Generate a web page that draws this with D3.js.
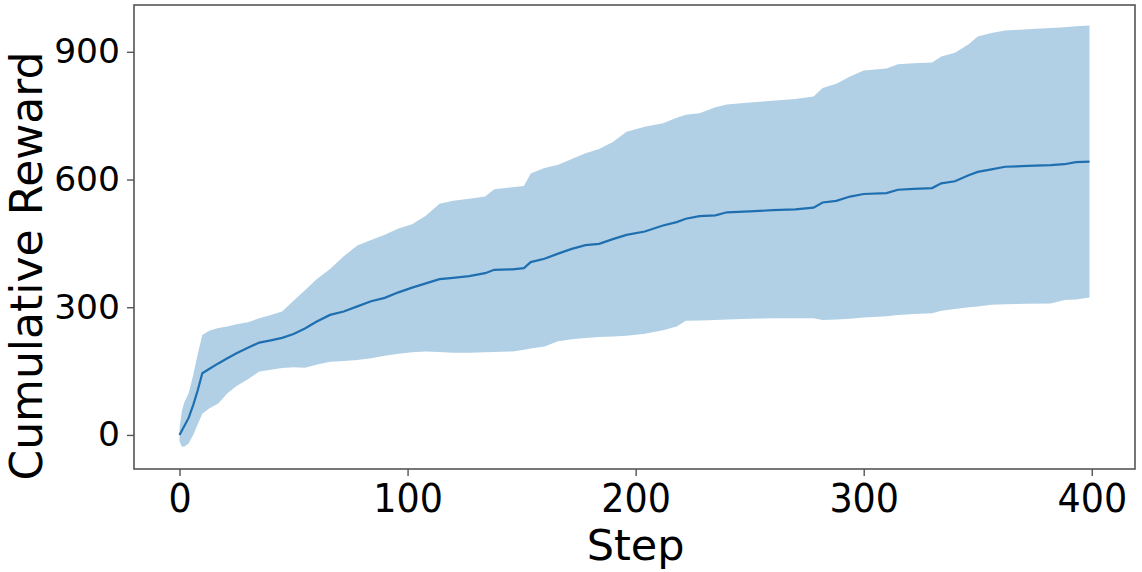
<!DOCTYPE html>
<html>
<head>
<meta charset="utf-8">
<script src="https://cdn.jsdelivr.net/npm/d3@7"></script>
<style>
  html, body { margin: 0; padding: 0; background: #fff; }
  svg { display: block; font-family: "DejaVu Sans", sans-serif; }
</style>
</head>
<body>
<div id="chart"></div>
<script>
// cumulative reward over steps, mean with a shaded band

const width = 1142,
      height = 572;

// values
const steps = [0, 1, 2, 4, 6, 8, 10, 13, 17, 21, 25, 30, 35, 40, 45, 50, 55, 60, 66, 72,
  78, 84, 90, 96, 102, 108, 114, 120, 127, 134, 138, 146, 151, 154, 160, 166, 172, 178, 184, 190,
  196, 204, 212, 218, 222, 228, 235, 240, 250, 260, 270, 278, 282, 288, 294, 300, 310, 315, 322, 330,
  334, 340, 346, 350, 356, 362, 372, 382, 388, 393, 399];

const meanReward = [0, 10, 20, 40, 70, 105, 145, 155, 168, 180, 192, 205, 217, 222, 228, 237, 250, 266, 282, 290,
  302, 314, 322, 335, 346, 356, 366, 369, 373, 380, 388, 389, 392, 406, 414, 426, 437, 446, 449, 460,
  470, 478, 492, 500, 508, 514, 516, 523, 525, 528, 530, 534, 546, 550, 560, 566, 568, 576, 578, 580,
  591, 596, 610, 618, 624, 630, 632, 634, 636, 641, 642];

const upperBand = [15, 55, 75, 98, 140, 190, 235, 245, 251, 255, 260, 265, 274, 282, 290, 315, 340, 365, 390, 420,
  445, 458, 470, 485, 495, 515, 543, 550, 555, 560, 577, 582, 585, 614, 627, 635, 648, 662, 672, 688,
  712, 724, 732, 745, 752, 756, 770, 776, 781, 785, 789, 795, 815, 825, 842, 856, 861, 871, 873, 875,
  889, 898, 918, 936, 944, 950, 953, 956, 958, 960, 962];

const lowerBand = [-15, -27, -28, -20, 0, 25, 50, 62, 74, 98, 115, 131, 149, 153, 157, 159, 158, 165, 172, 174,
  176, 180, 186, 191, 194, 196, 195, 193, 193, 194, 195, 196, 200, 203, 208, 220, 225, 228, 230, 231,
  233, 238, 246, 255, 268, 269, 270, 271, 273, 274, 274, 274, 270, 271, 273, 276, 279, 282, 284, 286,
  292, 296, 300, 302, 306, 307, 308, 309, 317, 318, 323];

const xTicks = [0, 100, 200, 300, 400];
const yTicks = [0, 300, 600, 900];

const margin = {top: 5, right: 7, bottom: 103, left: 134};

const svg = d3.select('#chart').append('svg')
    .attr("width", width)
    .attr("height", height);

const x = d3.scaleLinear()
    .domain([-19.95, 418.95])
    .range([margin.left, width - margin.right]);

const y = d3.scaleLinear()
    .domain([-80, 1010])
    .range([height - margin.bottom, margin.top]);

const rows = steps.map((s, i) => ({step: s, mean: meanReward[i], hi: upperBand[i], lo: lowerBand[i]}));

// shaded band
const area = d3.area()
    .x(d => x(d.step))
    .y0(d => y(d.lo))
    .y1(d => y(d.hi));

svg.append("path")
    .datum(rows)
    .attr("d", area)
    .attr("fill", "#1f77b4")
    .attr("fill-opacity", 0.35);

// mean line
const line = d3.line()
    .x(d => x(d.step))
    .y(d => y(d.mean));

svg.append("path")
    .datum(rows)
    .attr("d", line)
    .attr("fill", "none")
    .attr("stroke", "#1f6fb0")
    .attr("stroke-width", 2.2);

// frame
svg.append("rect")
    .attr("x", margin.left)
    .attr("y", margin.top)
    .attr("width", width - margin.left - margin.right)
    .attr("height", height - margin.top - margin.bottom)
    .attr("fill", "none")
    .attr("stroke", "#555")
    .attr("stroke-width", 1.6);

// axes
const xAxis = svg.append("g")
    .attr("transform", `translate(0,${height - margin.bottom})`)
    .call(d3.axisBottom(x).tickValues(xTicks).tickSize(7).tickPadding(6));

const yAxis = svg.append("g")
    .attr("transform", `translate(${margin.left},0)`)
    .call(d3.axisLeft(y).tickValues(yTicks).tickSize(7).tickPadding(7));

[xAxis, yAxis].forEach(g => {
  g.select(".domain").remove();
  g.selectAll(".tick line").attr("stroke", "#555").attr("stroke-width", 1.4);
  g.selectAll(".tick text")
      .attr("fill", "#000")
      .style("font-family", "'DejaVu Sans', sans-serif")
      .style("font-size", "34.5px");
});

xAxis.selectAll("text")
    .style("font-size", "36.5px")
    .attr("y", 0)
    .attr("dy", 0)
    .attr("transform", "translate(0,43) scale(1,1.05)");

// axis titles
svg.append("text")
    .attr("x", x(200))
    .attr("y", 560)
    .attr("text-anchor", "middle")
    .style("font-size", "43px")
    .attr("fill", "#000")
    .text("Step");

svg.append("text")
    .attr("transform", "translate(42,266) rotate(-90)")
    .attr("text-anchor", "middle")
    .style("font-size", "44px")
    .attr("fill", "#000")
    .text("Cumulative Reward");
</script>
</body>
</html>
